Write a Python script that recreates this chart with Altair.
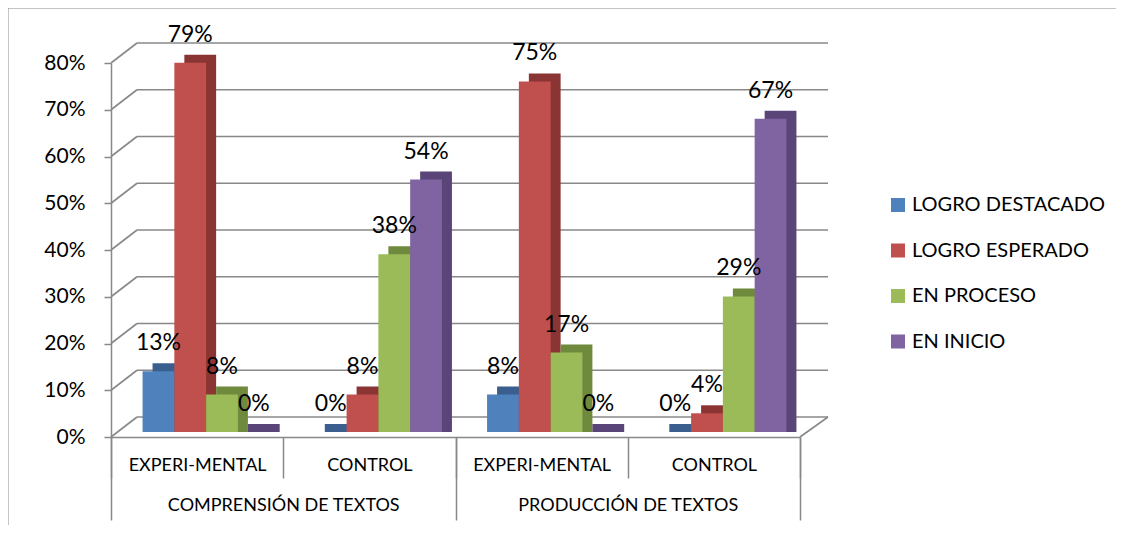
import altair as alt
import pandas as pd

# ---- data ----
groups = ["COMPRENSIÓN DE TEXTOS", "PRODUCCIÓN DE TEXTOS"]
subcats = ["EXPERI-MENTAL", "CONTROL"]
series = ["LOGRO DESTACADO", "LOGRO ESPERADO", "EN PROCESO", "EN INICIO"]
logro_destacado = [0.13, 0.00, 0.08, 0.00]
logro_esperado = [0.79, 0.08, 0.75, 0.04]
en_proceso = [0.08, 0.38, 0.17, 0.29]
en_inicio = [0.00, 0.54, 0.00, 0.67]
y_ticks = [0.0, 0.1, 0.2, 0.3, 0.4, 0.5, 0.6, 0.7, 0.8]

front_colors = ["#4f81bd", "#c0504d", "#9bbb59", "#8064a2"]
side_colors = ["#3a5f8f", "#8a3533", "#6f8a3c", "#5a4578"]
GRID = "#888888"
FONT = "Lato"

keys = [f"{g}|{s}" for g in groups for s in subcats]
rows = []
for name, vals in zip(series, [logro_destacado, logro_esperado, en_proceso, en_inicio]):
    for k, v in zip(keys, vals):
        rows.append({"key": k, "group": k.split("|")[0], "series": name, "value": v, "base": 0.0})
df = pd.DataFrame(rows)
grid_df = pd.DataFrame({"v": y_ticks})
zero_df = pd.DataFrame({"v": [0.0]})
dummy = pd.DataFrame({"a": [0]})

W, H = 689, 374

yscale = alt.Scale(domain=[0, 0.8], nice=False, zero=True)
yaxis = alt.Axis(values=y_ticks, format=".0%", title=None, grid=False,
                 labelFont=FONT, labelFontSize=21, labelColor="#000000",
                 labelPadding=19, tickSize=7, tickColor=GRID, tickWidth=1.5,
                 domainColor=GRID, domainWidth=1.5)


def Y(field):
    return alt.Y(field, scale=yscale, axis=yaxis, title=None)


# ---- walls / gridlines ----
back_grid = alt.Chart(grid_df).mark_rule(color=GRID, strokeWidth=1.6, yOffset=-20).encode(
    y=Y("v:Q"), x=alt.value(26), x2=alt.value(W + 28))
diag = alt.Chart(grid_df).mark_rule(color=GRID, strokeWidth=1.6, y2Offset=-20).encode(
    y=Y("v:Q"), y2=alt.Y2("v:Q"), x=alt.value(0), x2=alt.value(26))
floor_right = alt.Chart(zero_df).mark_rule(color=GRID, strokeWidth=1.6, y2Offset=-20).encode(
    y=Y("v:Q"), y2=alt.Y2("v:Q"), x=alt.value(W), x2=alt.value(W + 28))
border_top = alt.Chart(dummy).mark_rule(color="#8a8a8a", strokeWidth=1).encode(
    x=alt.value(-103), x2=alt.value(1013), y=alt.value(-55))
border_left = alt.Chart(dummy).mark_rule(color="#8a8a8a", strokeWidth=1).encode(
    x=alt.value(-103), y=alt.value(-55), y2=alt.value(470))
walls = alt.layer(back_grid, diag, floor_right, border_top, border_left)

xo_scale = alt.Scale(domain=series, paddingInner=0, paddingOuter=0.71)

# ---- 3D side/top faces (shifted darker bars) ----
side = alt.Chart(df).mark_bar(yOffset=-13, y2Offset=-5).encode(
    x=alt.X("key:N", sort=keys, axis=None,
            scale=alt.Scale(domain=keys, range=[19, W + 19], paddingInner=0, paddingOuter=0)),
    xOffset=alt.XOffset("series:N", sort=series, scale=xo_scale),
    y=Y("value:Q"),
    y2=alt.Y2("base:Q"),
    color=alt.Color("series:N", scale=alt.Scale(domain=series, range=side_colors), legend=None),
)

# ---- front faces + labels ----
bx = alt.X("key:N", sort=keys, axis=None,
           scale=alt.Scale(domain=keys, range=[9, W + 9], paddingInner=0, paddingOuter=0))
front = alt.Chart(df).mark_bar(yOffset=-5, y2Offset=-5).encode(
    x=bx,
    xOffset=alt.XOffset("series:N", sort=series, scale=xo_scale),
    y=Y("value:Q"),
    y2=alt.Y2("base:Q"),
    color=alt.Color("series:N", scale=alt.Scale(domain=series, range=front_colors),
                    legend=alt.Legend(orient="none", legendX=777, legendY=132, title=None,
                                      symbolType="square", symbolSize=196, symbolStrokeWidth=0,
                                      labelFont=FONT, labelFontSize=20, labelColor="#000000",
                                      labelOffset=4, rowPadding=25.5, labelLimit=400)),
)
labels = alt.Chart(df).mark_text(dy=-33, baseline="middle", font=FONT, fontSize=23, color="#000000").encode(
    x=bx,
    xOffset=alt.XOffset("series:N", sort=series, scale=xo_scale),
    y=Y("value:Q"),
    text=alt.Text("value:Q", format=".0%"),
)
bars = alt.layer(front, labels)

# ---- hierarchical category axis ----
axis_sub = alt.Chart(pd.DataFrame({"key": keys})).mark_point(opacity=0).encode(
    x=alt.X("key:N", sort=keys,
            scale=alt.Scale(domain=keys, paddingInner=0, paddingOuter=0),
            axis=alt.Axis(orient="bottom", title=None, labelExpr="split(datum.label, '|')[1]",
                          tickBand="extent", tickSize=41, tickColor=GRID, tickWidth=1.5,
                          domainColor=GRID, domainWidth=1.5, labelAngle=0,
                          labelBaseline="middle", labelPadding=-13, labelLimit=400,
                          labelFont=FONT, labelFontSize=18, labelColor="#000000"))
)
axis_grp = alt.Chart(pd.DataFrame({"group": groups})).mark_point(opacity=0).encode(
    x=alt.X("group:N", sort=groups,
            scale=alt.Scale(domain=groups, paddingInner=0, paddingOuter=0),
            axis=alt.Axis(orient="bottom", title=None, domain=False,
                          tickBand="extent", tickSize=83, tickColor=GRID, tickWidth=1.5,
                          labelAngle=0, labelBaseline="middle", labelPadding=-15, labelLimit=400,
                          labelFont=FONT, labelFontSize=18, labelColor="#000000"))
)

chart = alt.layer(walls, side, bars, axis_sub, axis_grp).resolve_scale(
    x="independent", color="independent"
).properties(
    width=W, height=H,
    padding={"left": 103, "top": 55, "right": 316, "bottom": 88},
    autosize=alt.AutoSizeParams(type="none"),
    background="white",
).configure_view(stroke=None)

chart.save("out.html", embed_options={"renderer": "svg", "actions": False})
